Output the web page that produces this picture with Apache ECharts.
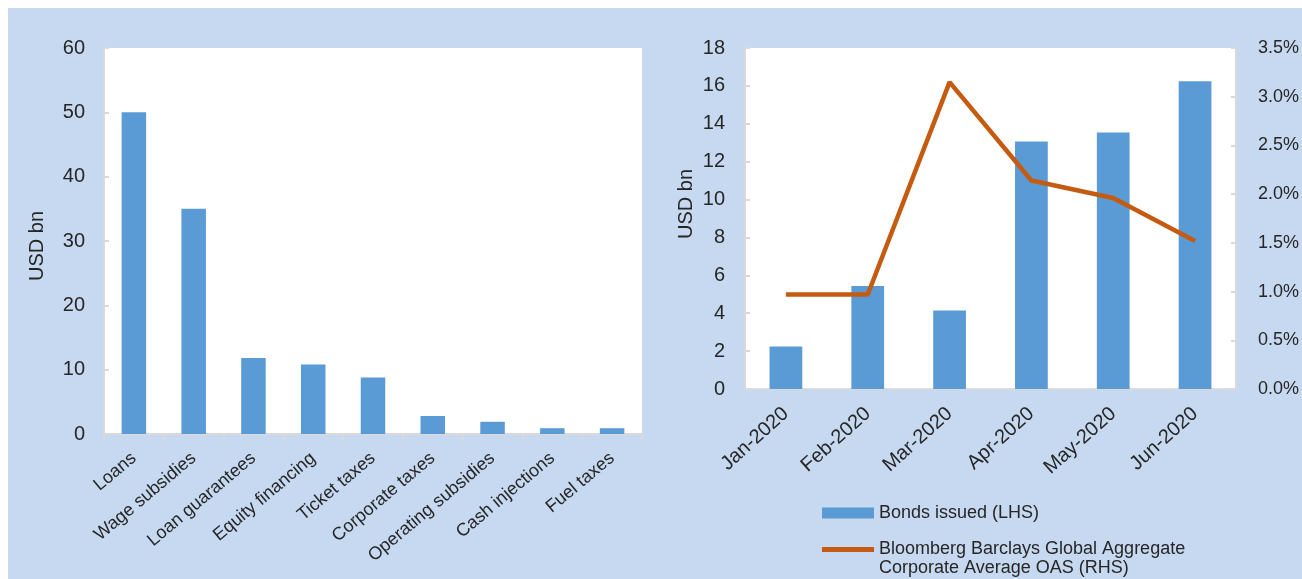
<!DOCTYPE html>
<html>
<head>
<meta charset="utf-8">
<script src="https://cdn.jsdelivr.net/npm/echarts@6/dist/echarts.min.js"></script>
<style>
html,body{margin:0;padding:0;background:#fff;}
#c{width:1302px;height:579px;}
</style>
</head>
<body>
<div id="c"></div>
<script>
// Left chart data
const measureCategories = ['Loans','Wage subsidies','Loan guarantees','Equity financing','Ticket taxes','Corporate taxes','Operating subsidies','Cash injections','Fuel taxes'];
const measureValues = [50, 35, 11.8, 10.8, 8.8, 2.8, 1.9, 0.9, 0.9];
const leftTicks = [0, 10, 20, 30, 40, 50, 60];

// Right chart data
const months = ['Jan-2020','Feb-2020','Mar-2020','Apr-2020','May-2020','Jun-2020'];
const bondsIssued = [2.25, 5.44, 4.15, 13.07, 13.54, 16.24];
const oasSpread = [0.97, 0.97, 3.15, 2.14, 1.96, 1.52];
const bondsTicks = [0, 2, 4, 6, 8, 10, 12, 14, 16, 18];
const oasTicks = [0, 0.5, 1.0, 1.5, 2.0, 2.5, 3.0, 3.5];

const seriesNames = ['Bonds issued (LHS)', 'Bloomberg Barclays Global Aggregate\nCorporate Average OAS (RHS)'];

const FONT = '"Liberation Sans", Arial, sans-serif';
const TXT = '#262626';
const AX = '#d9d9d9';
const BLUE = '#5b9bd5';
const ORANGE = '#c55a11';

const chart = echarts.init(document.getElementById('c'), null, {renderer:'canvas'});
chart.setOption({
  backgroundColor: '#ffffff',
  animation: false,
  textStyle: {fontFamily: FONT},
  graphic: [
    {type:'rect', z:-10, silent:true, shape:{x:8, y:8, width:1294, height:571}, style:{fill:'#c6d9f0'}},
    {type:'text', x:37, y:246, rotation:Math.PI/2, style:{text:'USD bn', fill:TXT, font:'20px ' + FONT, textAlign:'center', textVerticalAlign:'middle'}},
    {type:'text', x:686, y:204, rotation:Math.PI/2, style:{text:'USD bn', fill:TXT, font:'20px ' + FONT, textAlign:'center', textVerticalAlign:'middle'}}
  ],
  grid: [
    {left:104, top:48, width:538, height:386, show:true, backgroundColor:'#ffffff', borderWidth:0},
    {left:745, top:48, width:493, height:341, show:true, backgroundColor:'#ffffff', borderWidth:0}
  ],
  legend: [
    {
      data:[{name:seriesNames[0], icon:'rect'}],
      left:817, top:499, orient:'vertical',
      itemWidth:52, itemHeight:11, itemGap:0,
      textStyle:{color:TXT, fontSize:18, fontFamily:FONT}
    },
    {
      data:[{name:seriesNames[1], icon:'rect'}],
      left:817, top:516, orient:'vertical',
      itemWidth:52, itemHeight:5, itemGap:0,
      formatter: name => '\n' + name,
      textStyle:{color:TXT, fontSize:18, fontFamily:FONT, lineHeight:19}
    }
  ],
  xAxis: [
    {
      type:'category', gridIndex:0, data:measureCategories,
      axisLine:{show:true, lineStyle:{color:AX, width:2}},
      axisTick:{show:true, length:6, lineStyle:{color:AX, width:2}},
      axisLabel:{rotate:40, margin:22, color:TXT, fontSize:18, fontFamily:FONT, interval:0},
      splitLine:{show:false}
    },
    {
      type:'category', gridIndex:1, data:months,
      axisLine:{show:true, lineStyle:{color:AX, width:2, type:'dotted'}},
      axisTick:{show:false},
      axisLabel:{rotate:42, margin:22, color:TXT, fontSize:20, fontFamily:FONT, interval:0},
      splitLine:{show:false}
    }
  ],
  yAxis: [
    {
      type:'value', gridIndex:0, min:leftTicks[0], max:leftTicks[leftTicks.length-1], interval:10,
      axisLine:{show:true, lineStyle:{color:AX, width:2}},
      axisTick:{show:true, inside:true, length:5, lineStyle:{color:AX, width:2}},
      axisLabel:{margin:19, color:TXT, fontSize:20, fontFamily:FONT},
      splitLine:{show:false}
    },
    {
      type:'value', gridIndex:1, min:bondsTicks[0], max:bondsTicks[bondsTicks.length-1], interval:2,
      axisLine:{show:true, lineStyle:{color:AX, width:2}},
      axisTick:{show:true, inside:true, length:5, lineStyle:{color:AX, width:2}},
      axisLabel:{margin:20, color:TXT, fontSize:20, fontFamily:FONT},
      splitLine:{show:false}
    },
    {
      type:'value', gridIndex:1, position:'right', min:oasTicks[0], max:oasTicks[oasTicks.length-1], interval:0.5,
      axisLine:{show:true, lineStyle:{color:AX, width:2}},
      axisTick:{show:true, inside:true, length:5, lineStyle:{color:AX, width:2}},
      axisLabel:{margin:22, color:TXT, fontSize:18, fontFamily:FONT, formatter:v => v.toFixed(1) + '%'},
      splitLine:{show:false}
    }
  ],
  series: [
    {
      type:'bar', name:'Measures', xAxisIndex:0, yAxisIndex:0, data:measureValues,
      barWidth:'41%', itemStyle:{color:BLUE}
    },
    {
      type:'bar', name:seriesNames[0], xAxisIndex:1, yAxisIndex:1, data:bondsIssued,
      barWidth:'40%', itemStyle:{color:BLUE}
    },
    {
      type:'line', name:seriesNames[1], xAxisIndex:1, yAxisIndex:2, data:oasSpread,
      symbol:'none', clip:false, lineStyle:{color:ORANGE, width:4.5}, itemStyle:{color:ORANGE}
    }
  ]
});
</script>
</body>
</html>
